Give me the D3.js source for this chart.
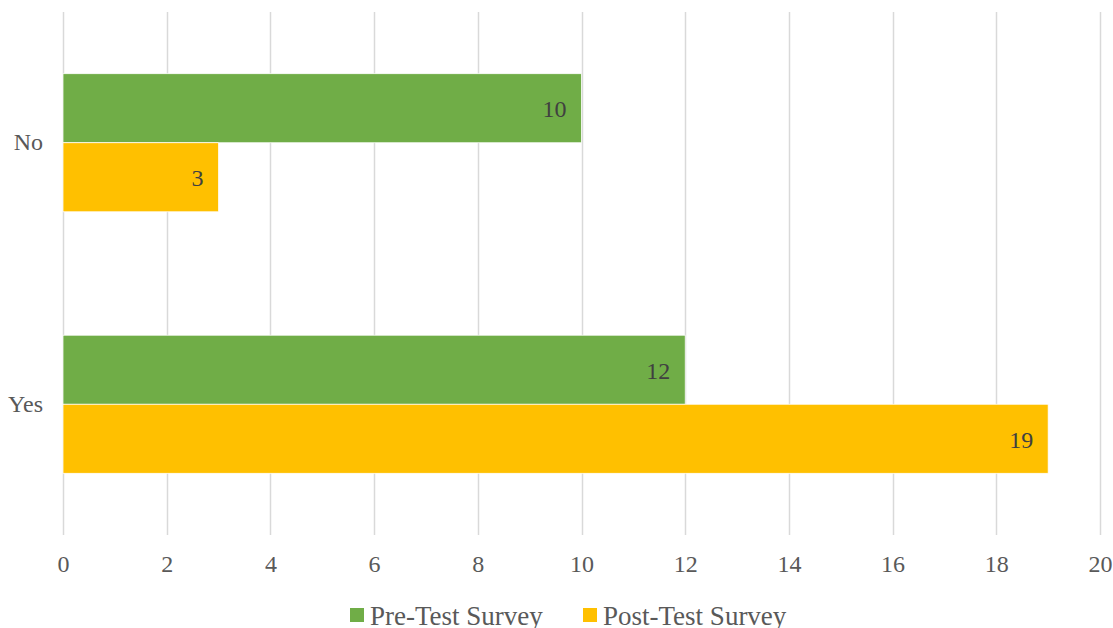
<!DOCTYPE html>
<html>
<head>
<meta charset="utf-8">
<script src="https://cdn.jsdelivr.net/npm/d3@7"></script>
</head>
<body style="margin:0">
<svg id="s" width="1113" height="628"></svg>
<script>
// Survey responses, pre- vs post-test
const categories = ["No", "Yes"];
const seriesNames = ["Pre-Test Survey", "Post-Test Survey"];
const preTest = [10, 12];
const postTest = [3, 19];
const xTicks = [0, 2, 4, 6, 8, 10, 12, 14, 16, 18, 20];
const seriesColors = ["#70AD47", "#FFC000"];

const svg = d3.select("#s");
const plot = { left: 63, right: 1100, top: 12, bottom: 535 };

const x = d3.scaleLinear().domain([0, 20]).range([plot.left, plot.right]);
const y = d3.scaleBand().domain(categories).range([plot.top, plot.bottom])
  .paddingInner(0.472).paddingOuter(0.236);
const ySub = d3.scaleBand().domain(seriesNames).range([0, y.bandwidth()]).padding(0);

const rows = categories.map((c, i) => ({
  category: c,
  values: [
    { series: seriesNames[0], value: preTest[i], color: seriesColors[0] },
    { series: seriesNames[1], value: postTest[i], color: seriesColors[1] }
  ]
}));

function serif(sel, size, color) {
  sel.attr("font-family", "Liberation Serif")
    .style("font-family", "'Liberation Serif'")
    .style("font-size", size + "px")
    .attr("fill", color);
}

// Vertical gridlines
svg.append("g")
  .selectAll("line")
  .data(xTicks)
  .join("line")
  .attr("x1", d => Math.round(x(d)) + 0.5)
  .attr("x2", d => Math.round(x(d)) + 0.5)
  .attr("y1", plot.top)
  .attr("y2", plot.bottom)
  .attr("stroke", "#d9d9d9")
  .attr("stroke-width", 1.5);

// Bars
const groups = svg.append("g")
  .selectAll("g")
  .data(rows)
  .join("g")
  .attr("transform", d => `translate(0,${y(d.category)})`);

groups.selectAll("rect")
  .data(d => d.values)
  .join("rect")
  .attr("x", x(0))
  .attr("y", d => ySub(d.series))
  .attr("width", d => x(d.value) - x(0))
  .attr("height", ySub.bandwidth())
  .attr("fill", d => d.color)
  .attr("stroke", "#ffffff")
  .attr("stroke-width", 0.75);

// Value labels inside bar ends
groups.selectAll("text")
  .data(d => d.values)
  .join("text")
  .attr("x", d => x(d.value) - 15)
  .attr("y", d => ySub(d.series) + ySub.bandwidth() / 2 + 9)
  .attr("text-anchor", "end")
  .call(serif, 24, "#404040")
  .text(d => d.value);

// X axis tick labels
const xAxis = d3.axisBottom(x).tickValues(xTicks).tickSize(0).tickPadding(0);
const gx = svg.append("g")
  .attr("transform", `translate(0,${plot.bottom})`)
  .call(xAxis);
gx.select(".domain").remove();
gx.attr("font-family", "Liberation Serif");
gx.selectAll("text")
  .attr("y", 37)
  .attr("dy", 0)
  .call(serif, 24, "#595959");

// Y axis category labels
const yAxis = d3.axisLeft(y).tickSize(0).tickPadding(0);
const gy = svg.append("g")
  .attr("transform", `translate(${plot.left - 20},0)`)
  .call(yAxis);
gy.select(".domain").remove();
gy.attr("font-family", "Liberation Serif");
gy.selectAll("text")
  .call(serif, 24, "#595959");

// Legend
const legendItems = [
  { name: seriesNames[0], color: seriesColors[0], x: 350 },
  { name: seriesNames[1], color: seriesColors[1], x: 583 }
];
const legend = svg.append("g")
  .selectAll("g")
  .data(legendItems)
  .join("g")
  .attr("transform", d => `translate(${d.x},0)`);
legend.append("rect")
  .attr("x", 0)
  .attr("y", 608)
  .attr("width", 14)
  .attr("height", 14)
  .attr("fill", d => d.color);
legend.append("text")
  .attr("x", 20)
  .attr("y", 625)
  .call(serif, 27, "#595959")
  .text(d => d.name);
</script>
</body>
</html>
